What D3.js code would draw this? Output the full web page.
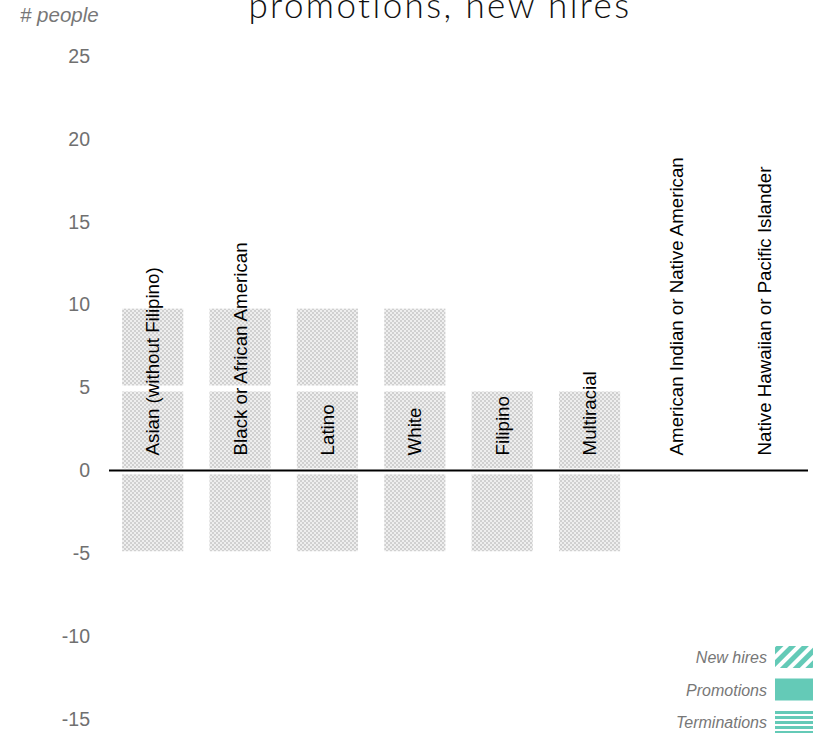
<!DOCTYPE html>
<html>
<head>
<meta charset="utf-8">
<script src="https://cdn.jsdelivr.net/npm/d3@7"></script>
<style>
  body { margin: 0; background: #fff; }
  svg { display: block; }
</style>
</head>
<body>
<script>
// data
const categories = [
  "Asian (without Filipino)", "Black or African American", "Latino", "White",
  "Filipino", "Multiracial", "American Indian or Native American",
  "Native Hawaiian or Pacific Islander"
]
const promotions = [5, 5, 5, 5, 5, 5, 0, 0]
const newHires = [5, 5, 5, 5, 0, 0, 0, 0]
const terminations = [-5, -5, -5, -5, -5, -5, 0, 0]
const yTicks = [25, 20, 15, 10, 5, 0, -5, -10, -15]
const legendItems = ["New hires", "Promotions", "Terminations"]

const W = 816, H = 734
const teal = "#64cab7"

const svg = d3.select("body").append("svg")
  .attr("width", W)
  .attr("height", H)

// patterns
const defs = svg.append("defs")
let checker = defs.append("pattern")
  .attr("id", "checker")
  .attr("patternUnits", "userSpaceOnUse")
  .attr("width", 4).attr("height", 4)
checker.append("rect").attr("width", 4).attr("height", 4).attr("fill", "#eeeeee")
checker.append("rect").attr("width", 2).attr("height", 2).attr("fill", "#d0d0d0")
checker.append("rect").attr("x", 2).attr("y", 2).attr("width", 2).attr("height", 2).attr("fill", "#d0d0d0")

let hatch = defs.append("pattern")
  .attr("id", "hatch")
  .attr("patternUnits", "userSpaceOnUse")
  .attr("width", 9).attr("height", 9)
  .attr("patternTransform", "rotate(45)")
hatch.append("rect").attr("width", 5).attr("height", 9).attr("fill", teal)

let hstripes = defs.append("pattern")
  .attr("id", "hstripes")
  .attr("patternUnits", "userSpaceOnUse")
  .attr("width", 8).attr("height", 5)
hstripes.append("rect").attr("width", 8).attr("height", 3).attr("fill", teal)

// scales
const x = d3.scaleBand()
  .domain(categories)
  .range([109, 808])
  .paddingInner(0.3)
  .paddingOuter(0.15)

const y = d3.scaleLinear()
  .domain([-15, 25])
  .range([719, 56])

// title (its first line sits above the visible area)
svg.append("text")
  .attr("x", 440)
  .attr("y", 18)
  .attr("text-anchor", "middle")
  .attr("font-family", "Lato, 'Open Sans', sans-serif")
  .attr("font-weight", 300)
  .attr("font-size", 35)
  .attr("letter-spacing", 2.4)
  .attr("fill", "#111")
  .text("promotions, new hires")

svg.append("text")
  .attr("x", 20)
  .attr("y", 22)
  .attr("font-family", "Arial, 'Liberation Sans', sans-serif")
  .attr("font-style", "italic")
  .attr("font-size", 20.5)
  .attr("fill", "#777")
  .text("# people")

// y axis
const yAxis = svg.append("g")
  .attr("transform", "translate(90,0)")
  .call(d3.axisLeft(y).tickValues(yTicks).tickSize(0).tickPadding(0).tickFormat(d => String(d)))
yAxis.select(".domain").remove()
yAxis.selectAll("text")
  .attr("font-family", "Arial, 'Liberation Sans', sans-serif")
  .attr("font-size", 19.5)
  .attr("fill", "#707070")

// segments: promotions 0..p, new hires p..p+n, terminations t..0
let segs = []
categories.forEach((c, i) => {
  if (promotions[i] > 0) segs.push({ c: c, top: promotions[i], bot: 0 })
  if (newHires[i] > 0) segs.push({ c: c, top: promotions[i] + newHires[i], bot: promotions[i] })
  if (terminations[i] < 0) segs.push({ c: c, top: 0, bot: terminations[i] })
})

svg.selectAll(".seg")
  .data(segs)
  .enter()
  .append("rect")
  .attr("class", "seg")
  .attr("x", d => x(d.c))
  .attr("width", x.bandwidth())
  .attr("y", d => y(d.top) + 4)
  .attr("height", d => y(d.bot) - y(d.top) - 6)
  .attr("fill", "url(#checker)")

// zero line
svg.append("line")
  .attr("x1", 109).attr("x2", 808)
  .attr("y1", y(0)).attr("y2", y(0))
  .attr("stroke", "#000")
  .attr("stroke-width", 2)

// category labels
svg.selectAll(".cat")
  .data(categories)
  .enter()
  .append("text")
  .attr("class", "cat")
  .attr("transform", d => "translate(" + (x(d) + x.bandwidth() / 2) + "," + (y(0) - 15) + ") rotate(-90)")
  .attr("dy", "0.35em")
  .attr("font-family", "Arial, 'Liberation Sans', sans-serif")
  .attr("font-size", 18.7)
  .attr("fill", "#000")
  .text(d => d)

// legend
const fills = ["url(#hatch)", teal, "url(#hstripes)"]
const leg = svg.selectAll(".leg")
  .data(legendItems)
  .enter()
  .append("g")
  .attr("class", "leg")
  .attr("transform", (d, i) => "translate(0," + (646 + i * 32.5) + ")")
leg.append("rect")
  .attr("x", 775)
  .attr("width", 38)
  .attr("height", 22)
  .attr("fill", (d, i) => fills[i])
leg.append("text")
  .attr("x", 767)
  .attr("y", 17)
  .attr("text-anchor", "end")
  .attr("font-family", "Arial, 'Liberation Sans', sans-serif")
  .attr("font-style", "italic")
  .attr("font-size", 16)
  .attr("fill", "#777")
  .text(d => d)
</script>
</body>
</html>
